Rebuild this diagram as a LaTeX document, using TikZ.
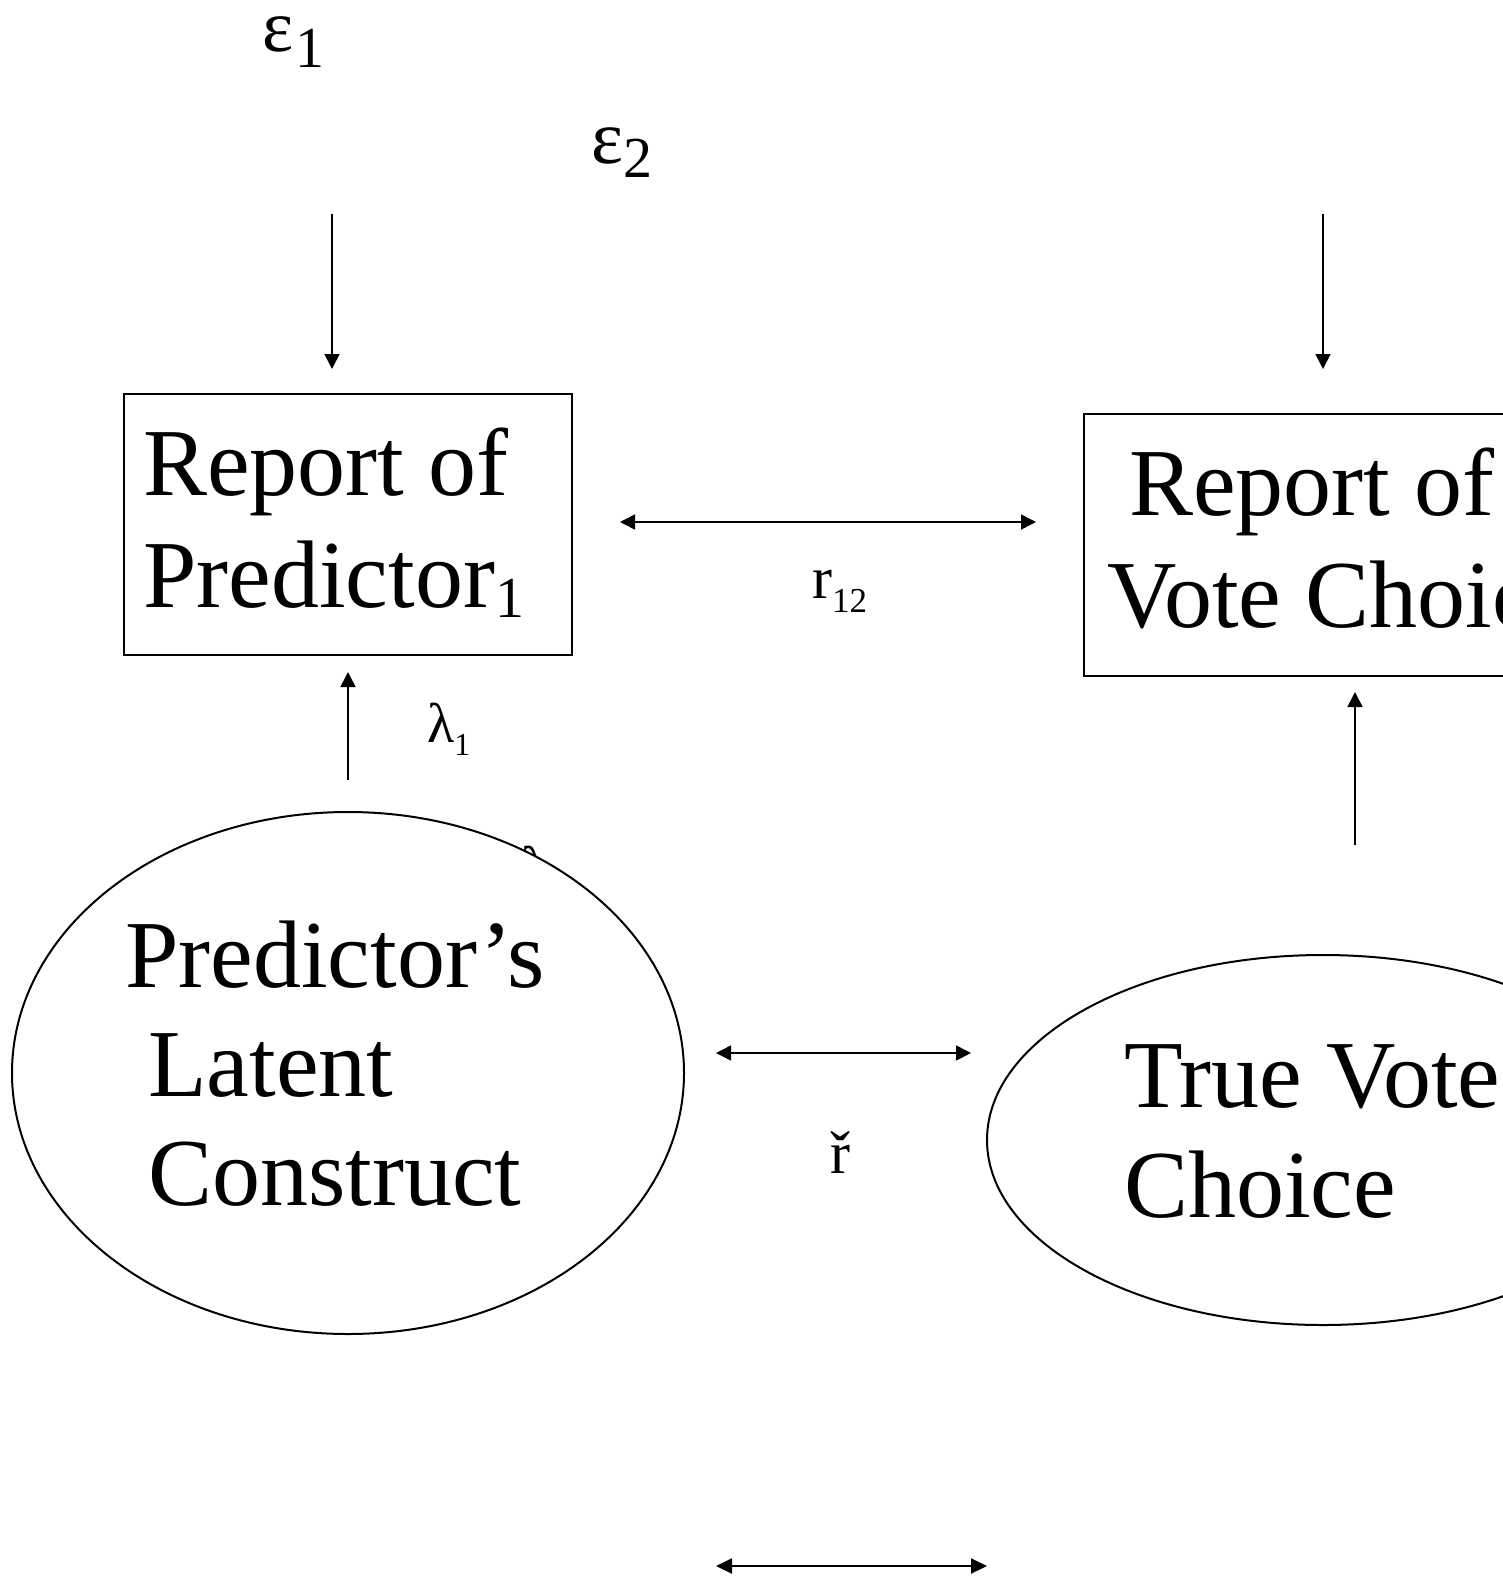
\documentclass[tikz,border=0pt]{standalone}
\usepackage{fontspec}
\setmainfont{Liberation Serif}
\usetikzlibrary{arrows.meta,shapes.geometric}
\tikzset{
  big/.style={font=\fontsize{96}{112}\selectfont, anchor=base west, inner sep=0pt},
  sym/.style={anchor=base west, inner sep=0pt},
  arr/.style={line width=1.6pt, -{Triangle[length=15pt,width=15pt]}},
  darr/.style={line width=1.6pt, {Triangle[length=15pt,width=15pt]}-{Triangle[length=15pt,width=15pt]}},
  boxshape/.style={draw, line width=2pt, rectangle, inner sep=0pt},
  ellshape/.style={draw, line width=2pt, ellipse, fill=white, inner sep=0pt},
}
\begin{document}
\begin{tikzpicture}[x=1pt,y=-1pt]
\useasboundingbox (0,0) rectangle (1503,1576);
\clip (0,0) rectangle (1503,1576);
% error terms
\node[sym] (e1) at (262,52) {\fontsize{74}{74}\selectfont ε\hspace{2pt}\raisebox{-16pt}{\fontsize{58}{58}\selectfont 1}};
\node[sym] (e2) at (591,163) {\fontsize{76}{76}\selectfont ε\raisebox{-14pt}{\fontsize{58}{58}\selectfont 2}};
% boxes
\node[boxshape, minimum width=448pt, minimum height=261pt] (box1) at (348,524.5) {};
\node[boxshape, minimum width=500pt, minimum height=262pt] (box2) at (1334,545) {};
\node[big] (b1a) at (143,495) {Report of};
\node[big] (b1b) at (143,607) {Predictor\raisebox{-10pt}{\fontsize{58}{58}\selectfont 1}};
\node[big] (b2a) at (1129,515) {Report of};
\node[big] (b2b) at (1107,627) {Vote Choice};
% error arrows
\coordinate (a1s) at (332,214); \coordinate (a1e) at (332,369);
\coordinate (a2s) at (1323,214); \coordinate (a2e) at (1323,369);
\draw[arr] (a1s) -- (a1e);
\draw[arr] (a2s) -- (a2e);
% r12
\coordinate (r12l) at (620,522); \coordinate (r12r) at (1036,522);
\draw[darr] (r12l) -- (r12r);
\node[sym] (r12) at (812,598) {\fontsize{60}{60}\selectfont r\raisebox{-14pt}{\fontsize{35}{35}\selectfont 12}};
% lambda labels
\node[sym] (lam1) at (427,742) {\fontsize{56}{56}\selectfont λ\raisebox{-13pt}{\fontsize{32}{32}\selectfont 1}};
\node[sym] (lam2) at (521,885) {\fontsize{56}{56}\selectfont λ\raisebox{-13pt}{\fontsize{32}{32}\selectfont 2}};
% loading arrows
\coordinate (l1s) at (348,780); \coordinate (l1e) at (348,672);
\coordinate (l2s) at (1355,845); \coordinate (l2e) at (1355,692);
\draw[arr] (l1s) -- (l1e);
\draw[arr] (l2s) -- (l2e);
% ellipses
\node[ellshape, minimum width=672pt, minimum height=522pt] (ell1) at (348,1073) {};
\node[ellshape, minimum width=672pt, minimum height=370pt] (ell2) at (1323,1140) {};
\node[big] (t1a) at (125,987) {Predictor’s};
\node[big] (t1b) at (148,1096) {Latent};
\node[big] (t1c) at (148,1205) {Construct};
\node[big] (t2a) at (1124,1107) {True Vote};
\node[big] (t2b) at (1124,1217) {Choice};
% r hat
\coordinate (rhl) at (716,1053); \coordinate (rhr) at (971,1053);
\draw[darr] (rhl) -- (rhr);
\node[sym] (rh) at (830,1173) {\fontsize{60}{60}\selectfont ř};
% bottom arrow
\coordinate (bl) at (716,1566); \coordinate (br) at (987,1566);
\draw[line width=2pt, {Triangle[length=16pt,width=15pt]}-{Triangle[length=16pt,width=15pt]}] (bl) -- (br);
\end{tikzpicture}
\end{document}
